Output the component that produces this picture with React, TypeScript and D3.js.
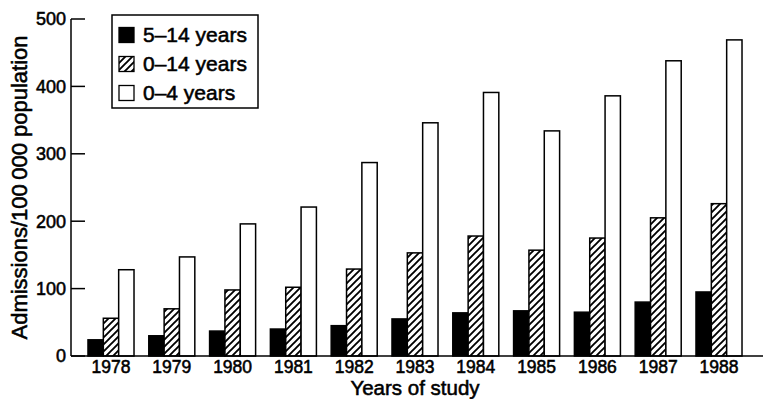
import React from "react";
import * as d3 from "d3";

const years = ["1978", "1979", "1980", "1981", "1982", "1983", "1984", "1985", "1986", "1987", "1988"];
const age5to14 = [24, 30, 37, 40, 45, 55, 64, 67, 65, 80, 95];
const age0to14 = [56, 70, 98, 102, 129, 153, 178, 157, 175, 205, 226];
const age0to4 = [128, 147, 196, 221, 287, 346, 391, 334, 386, 438, 469];
const seriesNames = ["5\u201314 years", "0\u201314 years", "0\u20134 years"];
const yTicks = [0, 100, 200, 300, 400, 500];

const W = 765;
const H = 399;
const FONT = "'Liberation Sans', Arial, Helvetica, sans-serif";

export default function App() {
  const axisX = 71;
  const y = d3.scaleLinear().domain([0, 500]).range([356, 19]);
  const x = d3
    .scaleBand<string>()
    .domain(years)
    .range([80.6, 749.4])
    .paddingInner(0.243)
    .paddingOuter(0.1215);
  const inner = d3
    .scaleBand<number>()
    .domain([0, 1, 2])
    .range([0, x.bandwidth()]);
  const series = [age5to14, age0to14, age0to4];
  const fills = ["#000", "url(#hatch)", "#fff"];
  const textStyle = { fontFamily: FONT, fill: "#000", stroke: "#000", strokeWidth: 0.55 } as React.CSSProperties;

  return (
    <svg width={W} height={H} style={{ position: "absolute", left: 0, top: 0, background: "#fff" }}>
      <defs>
        <pattern id="hatch" patternUnits="userSpaceOnUse" width={7} height={7}>
          <rect width={7} height={7} fill="#fff" />
          <path d="M0,7 L7,0 M-2,2 L2,-2 M5,9 L9,5" stroke="#000" strokeWidth={1.9} />
        </pattern>
      </defs>
      <rect width={W} height={H} fill="#fff" />

      {/* bars */}
      {series.map((vals, si) =>
        vals.map((v, i) => (
          <rect
            key={`${si}-${i}`}
            x={(x(years[i]) as number) + (inner(si) as number)}
            y={y(v)}
            width={inner.bandwidth()}
            height={y(0) - y(v)}
            fill={fills[si]}
            stroke="#000"
            strokeWidth={1.5}
          />
        ))
      )}

      {/* axes */}
      <line x1={axisX} x2={axisX} y1={y(500)} y2={y(0)} stroke="#000" strokeWidth={1.5} />
      <line x1={axisX} x2={763} y1={y(0)} y2={y(0)} stroke="#000" strokeWidth={1.5} />
      {yTicks.map((t) => (
        <g key={t}>
          <line x1={axisX} x2={axisX + 14} y1={y(t)} y2={y(t)} stroke="#000" strokeWidth={1.5} />
          <text x={66} y={y(t)} dy="0.36em" textAnchor="end" fontSize={18} style={textStyle}>
            {t}
          </text>
        </g>
      ))}
      {years.map((yr) => (
        <text
          key={yr}
          x={(x(yr) as number) + x.bandwidth() / 2}
          y={372.5}
          textAnchor="middle"
          fontSize={17.5}
          style={textStyle}
        >
          {yr}
        </text>
      ))}

      {/* axis titles */}
      <text x={415} y={394.5} textAnchor="middle" fontSize={20.5} style={textStyle}>
        Years of study
      </text>
      <text
        transform={`translate(27,187.5) rotate(-90)`}
        textAnchor="middle"
        fontSize={22}
        style={textStyle}
      >
        Admissions/100{"\u2009"}000 population
      </text>

      {/* legend */}
      <rect x={112} y={15} width={146} height={93} fill="#fff" stroke="#000" strokeWidth={1.5} />
      {seriesNames.map((name, i) => (
        <g key={name}>
          <rect x={119} y={27.5 + i * 29} width={15} height={15} fill={fills[i]} stroke="#000" strokeWidth={1.3} />
          <text x={143} y={41.5 + i * 29} fontSize={21} style={textStyle}>
            {name}
          </text>
        </g>
      ))}
    </svg>
  );
}
